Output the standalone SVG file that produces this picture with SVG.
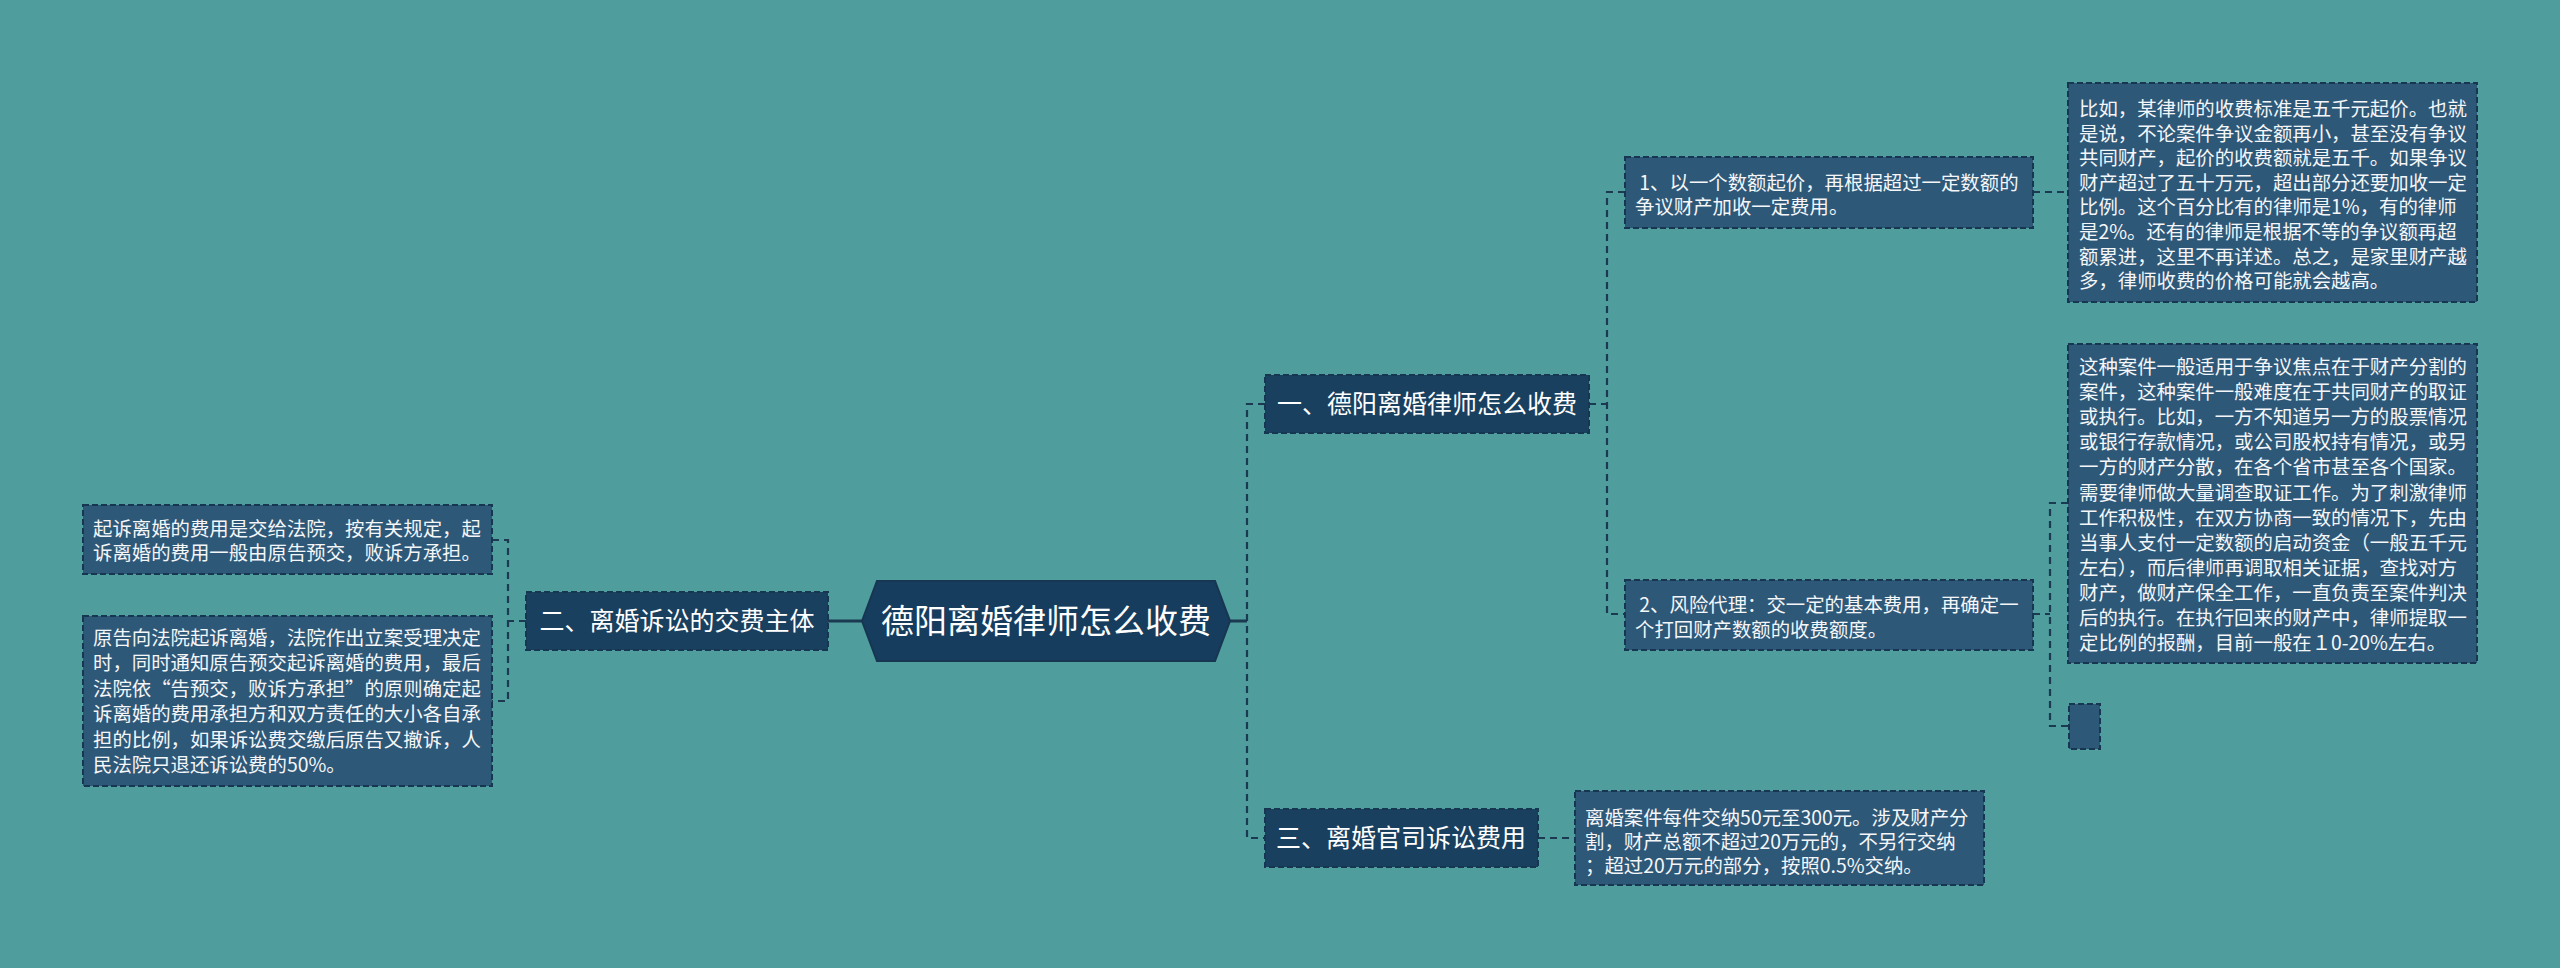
<svg xmlns="http://www.w3.org/2000/svg" width="2560" height="968" viewBox="0 0 2560 968">
<style>
.l1{fill:#1A4060;stroke:#173651;stroke-width:2;stroke-dasharray:6 3}
.l2{fill:#2E5878;stroke:#173651;stroke-width:2;stroke-dasharray:6 3}
.t1{font-family:"Noto Sans CJK SC","Noto Sans",sans-serif;font-size:25px;fill:#ffffff;text-anchor:middle}
.t2{font-family:"Noto Sans CJK SC","Noto Sans",sans-serif;font-size:19.4px;fill:#f4f6f8}
.root{font-family:"Noto Sans CJK SC","Noto Sans",sans-serif;font-size:33px;fill:#ffffff;text-anchor:middle}
.c{fill:none;stroke:#1B3A52;stroke-width:2.2;stroke-dasharray:7 5}
.cs{fill:none;stroke:#1B3A52;stroke-width:3}
</style>
<rect x="0" y="0" width="2560" height="968" fill="#509D9D"/>
<g id="connectors">
<path class="cs" d="M828 621H862M1230 621H1247"/>
<path class="c" d="M1265 404H1247V838H1265"/>
<path class="c" d="M1589 404H1607M1625 192H1607V614H1625"/>
<path class="c" d="M2033 192H2068"/>
<path class="c" d="M2033 614H2050M2068 503H2050V726H2068"/>
<path class="c" d="M1538 838H1575"/>
<path class="c" d="M526 621H508M492 540H508V701H492"/>
</g>
<g id="root">
<polygon points="862,621 877,581 1215,581 1230,621 1215,661 877,661" fill="#173D5E" stroke="#173651" stroke-width="2"/>
<text class="root" x="1046" y="633">德阳离婚律师怎么收费</text>
</g>
<g id="n1">
<rect class="l1" x="1265" y="375" width="324" height="58"/>
<text class="t1" x="1427" y="413">一、德阳离婚律师怎么收费</text>
</g>
<g id="n2">
<rect class="l1" x="526" y="592" width="302" height="58"/>
<text class="t1" x="677" y="630">二、离婚诉讼的交费主体</text>
</g>
<g id="n3">
<rect class="l1" x="1265" y="809" width="273" height="58"/>
<text class="t1" x="1401" y="847">三、离婚官司诉讼费用</text>
</g>
<g id="n1a">
<rect class="l2" x="1625" y="157" width="408" height="71"/>
<text class="t2" x="1635" y="190"><tspan x="1635" xml:space="preserve"> 1、以一个数额起价，再根据超过一定数额的</tspan><tspan x="1635" dy="24">争议财产加收一定费用。</tspan></text>
</g>
<g id="n1b">
<rect class="l2" x="1625" y="580" width="408" height="70"/>
<text class="t2" x="1635" y="612"><tspan x="1635" xml:space="preserve"> 2、风险代理：交一定的基本费用，再确定一</tspan><tspan x="1635" dy="25">个打回财产数额的收费额度。</tspan></text>
</g>
<g id="n1a1">
<rect class="l2" x="2068" y="83" width="409" height="219"/>
<text class="t2" x="2079" y="116"><tspan x="2079">比如，某律师的收费标准是五千元起价。也就</tspan><tspan x="2079" dy="24.6">是说，不论案件争议金额再小，甚至没有争议</tspan><tspan x="2079" dy="24.6">共同财产，起价的收费额就是五千。如果争议</tspan><tspan x="2079" dy="24.6">财产超过了五十万元，超出部分还要加收一定</tspan><tspan x="2079" dy="24.6">比例。这个百分比有的律师是1%，有的律师</tspan><tspan x="2079" dy="24.6">是2%。还有的律师是根据不等的争议额再超</tspan><tspan x="2079" dy="24.6">额累进，这里不再详述。总之，是家里财产越</tspan><tspan x="2079" dy="24.6">多，律师收费的价格可能就会越高。</tspan></text>
</g>
<g id="n1b1">
<rect class="l2" x="2068" y="344" width="409" height="319"/>
<text class="t2" x="2079" y="374"><tspan x="2079">这种案件一般适用于争议焦点在于财产分割的</tspan><tspan x="2079" dy="25.1">案件，这种案件一般难度在于共同财产的取证</tspan><tspan x="2079" dy="25.1">或执行。比如，一方不知道另一方的股票情况</tspan><tspan x="2079" dy="25.1">或银行存款情况，或公司股权持有情况，或另</tspan><tspan x="2079" dy="25.1">一方的财产分散，在各个省市甚至各个国家。</tspan><tspan x="2079" dy="25.1">需要律师做大量调查取证工作。为了刺激律师</tspan><tspan x="2079" dy="25.1">工作积极性，在双方协商一致的情况下，先由</tspan><tspan x="2079" dy="25.1">当事人支付一定数额的启动资金（一般五千元</tspan><tspan x="2079" dy="25.1">左右），而后律师再调取相关证据，查找对方</tspan><tspan x="2079" dy="25.1">财产，做财产保全工作，一直负责至案件判决</tspan><tspan x="2079" dy="25.1">后的执行。在执行回来的财产中，律师提取一</tspan><tspan x="2079" dy="25.1">定比例的报酬，目前一般在１0-20%左右。</tspan></text>
</g>
<g id="n1b2">
<rect class="l2" x="2069" y="704" width="31" height="45"/>
</g>
<g id="n3a">
<rect class="l2" x="1575" y="791" width="409" height="94"/>
<text class="t2" x="1585" y="825"><tspan x="1585">离婚案件每件交纳50元至300元。涉及财产分</tspan><tspan x="1585" dy="24">割，财产总额不超过20万元的，不另行交纳</tspan><tspan x="1585" dy="24">；超过20万元的部分，按照0.5%交纳。</tspan></text>
</g>
<g id="n2a">
<rect class="l2" x="83" y="505" width="409" height="69"/>
<text class="t2" x="93" y="536"><tspan x="93">起诉离婚的费用是交给法院，按有关规定，起</tspan><tspan x="93" dy="24">诉离婚的费用一般由原告预交，败诉方承担。</tspan></text>
</g>
<g id="n2b">
<rect class="l2" x="83" y="616" width="409" height="170"/>
<text class="t2" x="93" y="645"><tspan x="93">原告向法院起诉离婚，法院作出立案受理决定</tspan><tspan x="93" dy="25.4">时，同时通知原告预交起诉离婚的费用，最后</tspan><tspan x="93" dy="25.4">法院依“告预交，败诉方承担”的原则确定起</tspan><tspan x="93" dy="25.4">诉离婚的费用承担方和双方责任的大小各自承</tspan><tspan x="93" dy="25.4">担的比例，如果诉讼费交缴后原告又撤诉，人</tspan><tspan x="93" dy="25.4">民法院只退还诉讼费的50%。</tspan></text>
</g>
</svg>
